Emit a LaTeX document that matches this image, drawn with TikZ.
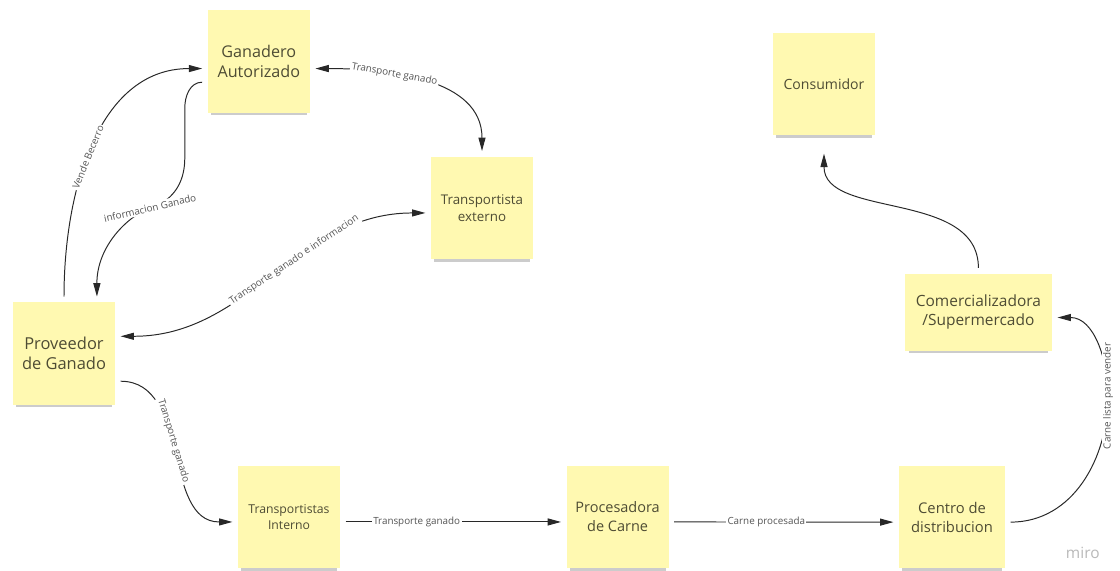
\documentclass[tikz,border=0pt]{standalone}
\usepackage{fontspec}
\setmainfont{Open Sans}
\usepackage{tikz}
\usetikzlibrary{arrows.meta, shadows}

\definecolor{stickyyellow}{RGB}{255,249,177}
\definecolor{stickytext}{RGB}{78,76,52}
\definecolor{linegray}{RGB}{40,40,40}
\definecolor{labelgray}{RGB}{85,85,85}

\begin{document}
\begin{tikzpicture}[
            sticky/.style={rectangle, fill=stickyyellow, text=stickytext, align=center, minimum width=2.55cm, minimum height=2.57cm, inner sep=2pt, outer sep=4pt, drop shadow={shadow xshift=0pt, shadow yshift=-4pt, shadow scale=0.94, opacity=0.4}},
            flow/.style={draw=linegray, line width=0.7pt, >={Triangle[length=9.5pt,width=5pt]}},
            tag/.style={fill=white, text=labelgray, font=\fontsize{7}{8}\selectfont, inner sep=1pt}
        ]

% Canvas
            \fill[white] (0,0) rectangle (28,14.25);
            \useasboundingbox (0,0) rectangle (28,14.25);

% Sticky notes
            \node[sticky, font=\fontsize{11.5}{14.5}\selectfont] (ganadero) at (6.47,12.71) {Ganadero\\Autorizado};
            \node[sticky, font=\fontsize{9.5}{12}\selectfont] (externo) at (12.05,9.05) {Transportista\\externo};
            \node[sticky, font=\fontsize{10}{12}\selectfont] (consumidor) at (20.6,12.15) {Consumidor};
            \node[sticky, font=\fontsize{11}{14}\selectfont, minimum width=3.675cm, minimum height=1.925cm] (comercial) at (24.46,6.45) {Comercializadora\\/Supermercado};
            \node[sticky, font=\fontsize{11.7}{14.5}\selectfont] (proveedor) at (1.6,5.41) {Proveedor\\de Ganado};
            \node[sticky, font=\fontsize{8.7}{11.5}\selectfont] (interno) at (7.225,1.325) {Transportistas\\Interno};
            \node[sticky, font=\fontsize{10.3}{13.5}\selectfont] (procesadora) at (15.44,1.325) {Procesadora\\de Carne};
            \node[sticky, font=\fontsize{10.5}{13.5}\selectfont, minimum width=2.65cm] (centro) at (23.8,1.325) {Centro de\\distribucion};

% Upper flows
            \draw[flow, ->] (proveedor.north) to[out=90, in=180] node[tag, sloped, pos=0.45] {Vende Becerro} (ganadero.187);
            \draw[flow, ->] (ganadero.200) to[out=180, in=90] (4.62,11.55) -- (4.62,10.3)
                .. controls (4.62,9.6) and (4.25,9.2) .. (3.75,9.05) node[tag, rotate=13] {informacion Ganado}
                .. controls (3.2,8.85) and (2.42,8.1) .. (proveedor.60);
            \draw[flow, <->] (ganadero.-7) to[out=0, in=90] node[tag, sloped, pos=0.35] {Transporte ganado} (externo.north);
            \draw[flow, <->] (proveedor.17) to[out=0, in=180] node[tag, sloped, pos=0.58] {Transporte ganado e informacion} (externo.185);

% Lower flows
            \draw[flow, ->] (proveedor.-26) to[out=0, in=180] node[tag, sloped, pos=0.45] {Transporte ganado} (interno.185);
            \draw[flow, ->] (interno.-5) -- node[tag, pos=0.33] {Transporte ganado} (procesadora.185);
            \draw[flow, ->] (procesadora.-5) -- node[tag, pos=0.42] {Carne procesada} (centro.185);
            \draw[flow, ->] (centro.-5) to[out=0, in=-90] (27.7,4.35) node[tag, rotate=90] {Carne lista para vender} to[out=90, in=0] (comercial.-4);
            \draw[flow, ->, shorten >=9pt] (comercial.north) to[out=90, in=-90] (consumidor.south);

% Board mark
            \node[text=gray!55, font=\fontsize{11}{12}\selectfont] (miro) at (27.07,0.43) {miro};

        \end{tikzpicture}
\end{document}
